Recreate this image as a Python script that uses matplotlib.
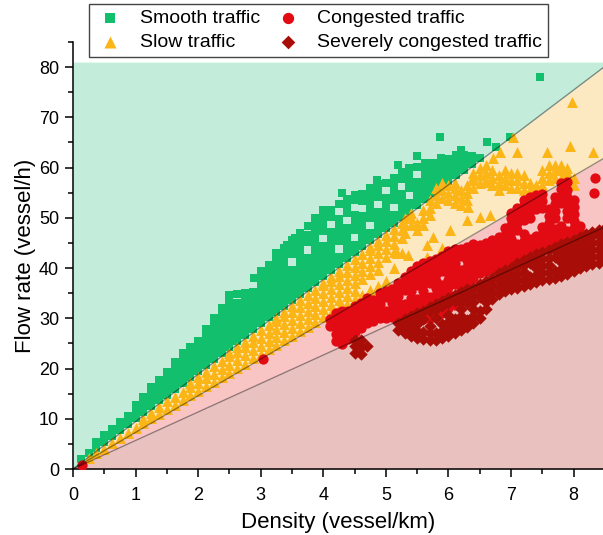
import numpy as np
import matplotlib.pyplot as plt
from matplotlib.ticker import MultipleLocator

plt.rcParams["font.family"] = ["Liberation Sans", "DejaVu Sans"]

# ------------------------------------------------------------
# Speed thresholds separating the traffic states (flow = speed * density)
# ------------------------------------------------------------
SMOOTH_SLOW_SPEED = 9.43
SLOW_CONGESTED_SPEED = 7.29
CONGESTED_SEVERE_SPEED = 5.67

X_MAX = 8.47
Y_MAX = 85
SHADE_TOP = 81

# ------------------------------------------------------------
# Observations, grouped by density (vessel/km) -> flow readings (vessel/h)
# ------------------------------------------------------------
smooth_density = [
    0.125, 0.25, 0.375, 0.5, 0.625, 0.75, 0.875, 1.0, 1.125, 1.25,
    1.375, 1.5, 1.625, 1.75, 1.875, 2.0, 2.125, 2.25, 2.375, 2.5,
    2.625, 2.75, 2.875, 3.0, 3.125, 3.25, 3.375, 3.5, 3.625, 3.75,
    3.875, 4.0, 4.125, 4.25, 4.375, 4.5, 4.625, 4.75, 4.875, 5.0,
    5.125, 5.25, 5.375, 5.5, 5.625, 5.75, 5.875, 6.0, 6.125, 6.25,
    6.375, 6.5,
    2.9, 3.42, 3.55, 3.9, 4.3, 4.86, 5.2, 5.49, 5.86, 6.2, 6.61, 6.76,
    6.98, 7.46,
]
smooth_flow = [
    [1.9], [3.1], [4.2, 5.4], [5.4, 6.8], [6.6, 8.0], [7.8, 9.3],
    [9.0, 10.5], [10.1, 11.6, 12.8], [11.3, 12.8, 14.3],
    [12.5, 14.0, 15.5, 16.3], [13.7, 15.2, 16.7, 17.8],
    [14.8, 16.3, 17.8, 19.3], [16.0, 17.5, 19.0, 20.5, 21.3],
    [17.2, 18.7, 20.2, 21.7, 23.0], [18.4, 19.9, 21.4, 22.9, 24.2],
    [19.6, 21.1, 22.6, 24.1, 25.5], [20.7, 22.2, 23.7, 25.2, 26.7, 27.8],
    [21.9, 23.4, 24.9, 26.4, 27.9, 29.4, 30.0],
    [23.1, 24.6, 26.1, 27.6, 29.1, 30.6, 32.0],
    [24.3, 25.8, 27.3, 28.8, 30.3, 31.8, 33.3, 34.7],
    [25.5, 27.0, 28.5, 30.0, 31.5, 33.0, 34.8],
    [26.6, 28.1, 29.6, 31.1, 32.6, 34.1, 35.0],
    [27.8, 29.3, 30.8, 32.3, 33.8, 35.3],
    [29.0, 30.5, 32.0, 33.5, 35.0, 36.5, 38.0, 39.5],
    [30.2, 31.7, 33.2, 34.7, 36.2, 37.7, 39.2, 40.7],
    [31.3, 32.8, 34.3, 35.8, 37.3, 38.8, 40.3, 41.8, 43.0],
    [32.5, 34.0, 35.5, 37.0, 38.5, 40.0, 41.5, 43.0, 44.0],
    [33.7, 35.2, 36.7, 38.2, 39.7, 42.7, 44.2, 45.5],
    [34.9, 36.4, 37.9, 39.4, 40.9, 42.4, 43.9, 45.4, 46.9],
    [36.1, 37.6, 39.1, 40.6, 42.1, 45.1, 46.6, 48.3],
    [37.2, 38.7, 40.2, 41.7, 43.2, 44.7, 46.2, 47.7, 49.2, 50.0],
    [38.4, 39.9, 41.4, 42.9, 44.4, 47.4, 48.9, 50.4, 51.5],
    [39.6, 41.1, 42.6, 44.1, 45.6, 47.1, 50.1, 51.6],
    [40.8, 42.3, 45.3, 46.8, 48.3, 49.8, 52.8],
    [42.0, 43.5, 45.0, 46.5, 48.0, 51.0, 52.5, 53.8],
    [43.1, 44.6, 47.6, 49.1, 50.6, 53.6, 54.6],
    [44.3, 45.8, 47.3, 48.8, 50.3, 53.3, 54.8],
    [45.5, 47.0, 50.0, 51.5, 53.0, 54.5, 56.0],
    [46.7, 48.2, 49.7, 51.2, 54.2, 55.7, 56.8],
    [47.9, 49.4, 50.9, 52.4, 53.9, 56.9],
    [49.0, 50.5, 53.5, 55.0, 56.5, 58.0],
    [50.2, 51.7, 53.2, 54.7, 57.7, 59.2],
    [51.4, 52.9, 55.9, 57.4, 58.9, 60.0],
    [52.6, 54.1, 55.6, 57.1, 60.1],
    [53.7, 55.2, 56.7, 58.2, 59.7, 61.0],
    [54.9, 56.4, 57.9, 59.4, 60.9],
    [56.1, 57.6, 59.1, 60.6, 62.0],
    [57.3, 58.8, 60.3, 61.8],
    [58.5, 60.0, 61.5, 62.5],
    [59.6, 61.1, 62.5],
    [60.8, 62.3],
    [62.0],
    [38.0], [44.6], [46.0], [49.0], [55.0], [57.5], [60.5], [62.3],
    [66.0], [63.5], [65.0], [64.0], [66.0], [78.0],
]

slow_density = [
    0.25, 0.375, 0.5, 0.625, 0.75, 0.875, 1.0, 1.125, 1.25, 1.375,
    1.5, 1.625, 1.75, 1.875, 2.0, 2.125, 2.25, 2.375, 2.5, 2.625,
    2.75, 2.875, 3.0, 3.125, 3.25, 3.375, 3.5, 3.625, 3.75, 3.875,
    4.0, 4.125, 4.25, 4.375, 4.5, 4.625, 4.75, 4.875, 5.0, 5.125,
    5.25,
    5.3, 5.4, 5.5, 5.6, 5.7, 5.8, 5.9, 6.0, 6.1, 6.2, 6.3, 6.4, 6.5,
    6.6, 6.7, 6.8, 6.9, 7.0, 7.1, 7.2, 7.3, 7.4, 7.5, 7.6, 7.7, 7.8,
    7.9, 8.0,
    5.17, 5.35, 5.65, 5.75, 5.9, 6.02, 6.29, 6.31, 6.39, 6.5, 6.58,
    6.66, 6.71, 6.82, 7.03, 7.09, 7.57, 7.94, 7.97, 8.31,
]
slow_flow = [
    [2.2], [3.1], [4.0], [5.2], [6.2], [7.2], [8.2], [9.2, 10.0],
    [10.1, 11.2], [11.0, 12.4], [11.9, 13.5], [12.8, 14.4],
    [13.8, 15.4], [14.7, 16.3, 17.1], [15.6, 17.2, 18.3],
    [16.5, 18.1, 19.4], [17.4, 19.0, 20.6], [18.3, 19.9, 21.5],
    [19.2, 20.8, 22.4, 23.0], [20.1, 21.7, 23.3, 24.2],
    [21.0, 22.6, 24.2, 25.3], [22.0, 23.6, 25.2, 26.5],
    [22.9, 24.5, 26.1, 27.7], [23.8, 25.4, 27.0, 28.6],
    [24.7, 26.3, 27.9, 29.5, 30.0], [25.6, 27.2, 28.8, 30.4, 31.2],
    [26.5, 28.1, 29.7, 31.3, 32.4], [27.4, 29.0, 30.6, 32.2, 33.6],
    [28.3, 29.9, 31.5, 33.1, 34.7], [29.2, 30.8, 32.4, 34.0, 35.6],
    [30.2, 31.8, 33.4, 35.0, 36.6, 37.1],
    [31.1, 32.7, 34.3, 35.9, 37.5, 38.3],
    [32.0, 33.6, 35.2, 36.8, 38.4, 39.5],
    [32.9, 34.5, 36.1, 37.7, 39.3, 40.7],
    [33.8, 35.4, 37.0, 38.6, 40.2, 41.8],
    [34.7, 37.9, 39.5, 41.1, 42.7],
    [35.6, 38.8, 40.4, 42.0, 43.6, 44.2],
    [36.5, 39.7, 41.3, 42.9, 44.5, 45.4],
    [37.5, 42.2, 43.8, 45.4, 46.6],
    [40.0, 43.1, 44.7, 46.3, 47.7],
    [43.0, 46.0, 47.6, 48.9],
    [47.0, 48.5, 50.0], [48.5, 50.0, 51.0], [47.5, 49.0],
    [48.5, 50.0, 51.5], [50.5, 52.0, 53.5], [53.0, 54.5, 56.0],
    [54.0, 55.5, 57.0], [53.5, 55.0, 56.5], [53.0, 54.5, 56.0, 57.0],
    [52.5, 54.0, 55.5], [53.5, 55.0, 56.5], [56.0, 57.5, 59.0],
    [57.0, 58.5, 60.0], [57.5, 59.0, 60.5], [56.5, 58.0, 59.5],
    [55.5, 57.0, 58.5], [56.5, 58.0, 59.5], [56.0, 57.5, 59.0],
    [56.0, 57.5, 59.0], [55.5, 57.0, 58.5], [54.0, 55.5, 57.0],
    [53.5, 55.0, 56.5], [55.0, 56.5, 58.0, 59.5], [57.5, 59.0, 60.5],
    [58.0, 59.5, 60.5], [58.0, 59.5, 60.5], [57.5, 59.0, 60.0],
    [56.5, 58.0],
    [43.0], [42.5], [42.2, 44.5], [46.2], [44.0], [47.6], [49.6],
    [52.2], [58.2], [50.2], [57.2], [50.6], [62.0], [63.2], [66.0],
    [63.2], [63.2], [64.2], [73.1], [63.2],
]

congested_density = [
    4.1, 4.2, 4.3, 4.4, 4.5, 4.6, 4.7, 4.8, 4.9, 5.0, 5.1, 5.2, 5.3,
    5.4, 5.5, 5.6, 5.7, 5.8, 5.9, 6.0, 6.1, 6.2, 6.3, 6.4, 6.5, 6.6,
    6.7, 6.8, 6.9, 7.0, 7.1, 7.2, 7.3, 7.4, 7.5, 7.6, 7.7, 7.8, 7.9,
    8.0, 8.1,
    0.14, 3.04, 6.39, 8.32, 8.35,
]
congested_flow = [
    [28.5, 29.8], [25.5, 26.9, 28.3, 29.7, 31.0],
    [24.8, 26.2, 27.6, 29.0, 30.4, 31.5], [25.8, 27.2, 28.6, 30.0, 31.4],
    [27.2, 28.6, 30.0, 31.4, 32.5], [28.0, 29.4, 30.8, 32.2, 33.0],
    [29.0, 30.4, 31.8, 33.2, 34.0], [29.5, 30.9, 32.3, 33.7],
    [30.0, 31.4, 32.8, 34.2, 35.0], [30.0, 31.4, 34.2, 35.5],
    [30.2, 31.6, 33.0, 34.4, 35.8], [30.2, 31.6, 33.0, 34.4, 35.8, 37.0],
    [30.0, 31.4, 32.8, 35.6, 37.0, 38.2],
    [29.8, 31.2, 32.6, 34.0, 35.4, 36.8, 38.2, 39.5],
    [29.6, 31.0, 32.4, 33.8, 36.6, 38.0, 39.4, 40.5],
    [29.8, 31.2, 32.6, 34.0, 35.4, 36.8, 38.2, 39.6, 41.0],
    [30.0, 31.4, 32.8, 34.2, 37.0, 38.4, 39.8, 41.4],
    [30.4, 31.8, 33.2, 34.6, 36.0, 37.4, 38.8, 40.2, 41.8],
    [31.0, 32.4, 33.8, 35.2, 36.6, 39.4, 40.8, 42.4],
    [32.0, 33.4, 34.8, 36.2, 37.6, 39.0, 40.4, 41.8, 43.4],
    [32.6, 34.0, 36.8, 38.2, 39.6, 41.0, 42.4, 43.8],
    [34.0, 35.4, 36.8, 38.2, 39.6, 42.4, 43.8],
    [36.0, 37.4, 38.8, 40.2, 41.6, 43.0, 44.2],
    [38.0, 39.4, 40.8, 42.2, 43.6], [39.0, 40.4, 41.8, 43.2, 44.6],
    [39.5, 40.9, 42.3, 43.7, 45.0], [40.0, 41.4, 42.8, 44.2, 45.6],
    [40.5, 41.9, 43.3, 44.7, 46.1], [41.0, 42.4, 43.8, 45.2, 46.6, 48.0],
    [41.5, 42.9, 44.3, 45.7, 47.1, 48.5, 49.9, 51.0],
    [42.0, 43.4, 44.8, 47.6, 49.0, 50.4, 52.0],
    [42.5, 43.9, 45.3, 46.7, 49.5, 50.9, 52.5, 53.5],
    [43.0, 44.4, 45.8, 50.0, 51.4, 52.8, 54.2],
    [43.5, 44.9, 46.3, 51.8, 53.2, 54.5],
    [44.0, 45.4, 46.8, 48.2, 52.0, 53.4, 54.8],
    [44.5, 45.9, 47.3, 49.0, 50.4, 51.8],
    [45.0, 46.4, 47.8, 50.0, 51.4, 52.8, 54.2],
    [45.5, 46.9, 48.3, 53.0, 54.4, 55.8, 57.0],
    [46.0, 47.4, 50.0, 51.4, 52.8, 54.2, 55.6, 57.2],
    [46.5, 47.9, 49.3, 50.7, 52.1, 53.5], [47.0, 48.4],
    [0.8], [21.8], [44.8], [55.0], [58.0],
]

severe_density = [
    4.5, 4.6, 4.7, 5.2, 5.3, 5.4, 5.5, 5.6, 5.7, 5.8, 5.9, 6.0, 6.1,
    6.2, 6.3, 6.4, 6.5, 6.6, 6.7, 6.8, 6.9, 7.0, 7.1, 7.2, 7.3, 7.4,
    7.5, 7.6, 7.7, 7.8, 7.9, 8.0, 8.1, 8.2, 8.3, 8.4, 8.5,
]
severe_flow = [
    [23.0, 24.4, 25.6], [22.8, 24.2, 25.6], [24.5], [27.6, 29.0],
    [27.0, 28.4, 29.8], [26.5, 27.9, 29.3, 30.5],
    [26.0, 27.4, 28.8, 30.2, 31.0], [25.8, 27.2, 29.8, 31.4],
    [25.7, 27.1, 28.5, 31.5, 32.2], [25.7, 27.1, 30.0, 31.8, 32.8],
    [26.0, 27.4, 28.8, 32.4, 33.4], [26.5, 27.9, 29.3, 30.7, 33.0, 34.0],
    [27.0, 28.4, 29.8, 33.5, 34.6],
    [27.6, 29.0, 30.4, 31.8, 33.2, 34.6, 35.2],
    [28.2, 29.6, 33.0, 34.4, 35.8], [29.0, 30.4, 31.8, 33.2, 34.6, 36.0],
    [30.0, 31.4, 34.2, 35.6, 36.8], [31.8, 33.2, 34.6, 36.0, 37.4],
    [33.8, 35.2, 36.6, 38.0], [34.8, 36.2, 37.6, 39.0],
    [35.4, 36.8, 38.2, 39.6], [35.8, 37.2, 38.6, 40.0],
    [36.0, 37.4, 38.8, 40.2, 41.0], [36.4, 37.8, 39.2, 40.6, 41.6],
    [36.8, 38.2, 41.0, 42.2], [37.2, 38.6, 40.0, 41.4, 42.8],
    [37.6, 39.0, 40.4, 41.8, 43.2], [37.8, 39.2, 40.6, 42.0, 43.6],
    [38.0, 39.4, 42.2, 43.6, 44.2], [38.4, 39.8, 41.2, 42.6, 44.0, 44.8],
    [38.8, 40.2, 41.6, 43.0, 44.4, 45.2],
    [39.4, 40.8, 42.2, 43.6, 45.0, 45.6],
    [40.0, 41.4, 42.8, 44.2, 45.6, 46.2],
    [40.4, 41.8, 43.2, 44.6, 46.0, 46.8],
    [40.8, 42.2, 43.6, 45.0, 46.4, 47.2],
    [41.0, 42.4, 43.8, 45.2, 46.6, 47.6],
    [41.4, 42.8, 44.2, 45.6, 47.0, 48.0],
]


def flatten(density, flow):
    pts = [(d, q) for d, qs in zip(density, flow) for q in qs]
    return np.array(pts)


smooth = flatten(smooth_density, smooth_flow)
slow = flatten(slow_density, slow_flow)
congested = flatten(congested_density, congested_flow)
severe = flatten(severe_density, severe_flow)

# ------------------------------------------------------------
# Figure
# ------------------------------------------------------------
fig = plt.figure(figsize=(6.03, 5.35), dpi=100)
ax = fig.add_axes([73 / 603, 66 / 535, 530 / 603, 427 / 535])

x_edges = np.array([0, X_MAX])

# traffic-state regions
ax.fill_between(x_edges, SMOOTH_SLOW_SPEED * x_edges, SHADE_TOP,
                color="#C3ECDA", lw=0, zorder=0)
ax.fill_between(x_edges, SLOW_CONGESTED_SPEED * x_edges,
                SMOOTH_SLOW_SPEED * x_edges, color="#FDE9C1", lw=0, zorder=0)
ax.fill_between(x_edges, CONGESTED_SEVERE_SPEED * x_edges,
                SLOW_CONGESTED_SPEED * x_edges, color="#F8C4C4", lw=0, zorder=0)
ax.fill_between(x_edges, 0, CONGESTED_SEVERE_SPEED * x_edges,
                color="#E9C1BE", lw=0, zorder=0)

ax.scatter(smooth[:, 0], smooth[:, 1], marker="s", s=38, color="#12BF6C",
           linewidths=0, zorder=3, label="Smooth traffic")
ax.scatter(slow[:, 0], slow[:, 1], marker="^", s=62, color="#FBB516",
           linewidths=0, zorder=3, label="Slow traffic")
ax.scatter(congested[:, 0], congested[:, 1], marker="o", s=55,
           color="#E20B14", linewidths=0, zorder=3, label="Congested traffic")
ax.scatter(severe[:, 0], severe[:, 1], marker="D", s=40, color="#A80E07",
           linewidths=0, zorder=3, label="Severely congested traffic")

for speed in (SMOOTH_SLOW_SPEED, SLOW_CONGESTED_SPEED, CONGESTED_SEVERE_SPEED):
    ax.plot(x_edges, speed * x_edges, color="black", alpha=0.4, lw=1,
            zorder=5)

ax.set_xlim(0, X_MAX)
ax.set_ylim(0, Y_MAX)
ax.xaxis.set_major_locator(MultipleLocator(1))
ax.xaxis.set_minor_locator(MultipleLocator(0.5))
ax.yaxis.set_major_locator(MultipleLocator(10))
ax.yaxis.set_minor_locator(MultipleLocator(5))

for side in ("top", "right"):
    ax.spines[side].set_visible(False)
for side in ("left", "bottom"):
    ax.spines[side].set_linewidth(1.1)

ax.tick_params(which="major", direction="out", length=6, width=1.1,
               labelsize=13)
ax.tick_params(which="minor", direction="out", length=3.5, width=1.1)
ax.tick_params(axis="x", which="major", pad=7)
ax.tick_params(axis="y", which="major", pad=4)

ax.set_xlabel("Density (vessel/km)", fontsize=16, labelpad=6)
ax.set_ylabel("Flow rate (vessel/h)", fontsize=16, labelpad=2)

leg = fig.legend(loc="upper left", bbox_to_anchor=(89 / 603, 1 - 4 / 535),
                 ncol=2, fontsize=14, frameon=True, fancybox=False,
                 edgecolor="#444444", framealpha=1, borderpad=0.3,
                 labelspacing=0.3, handlelength=1.6, handletextpad=0.7,
                 columnspacing=0.65, markerscale=1.1, borderaxespad=0)
leg.get_frame().set_linewidth(1.0)

fig.savefig("out.png", dpi=100)
